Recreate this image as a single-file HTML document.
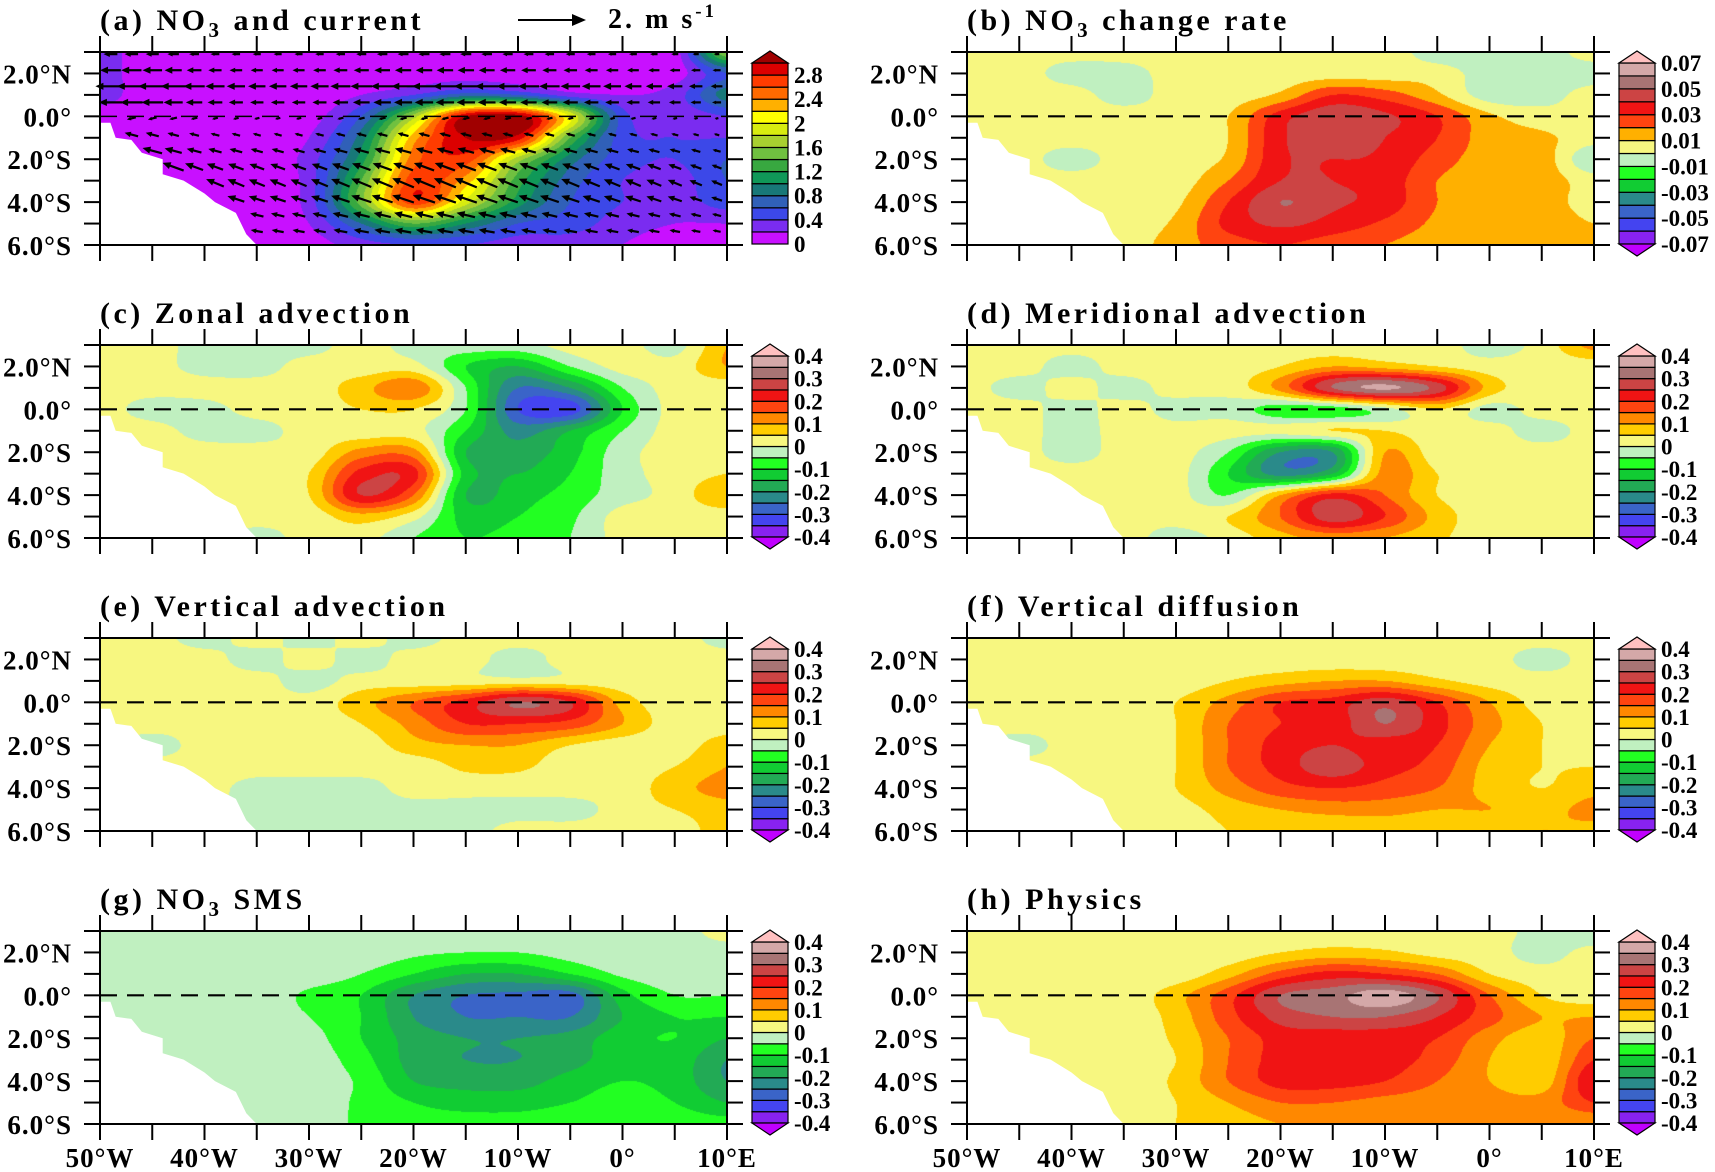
<!DOCTYPE html>
<html><head><meta charset="utf-8"><title>NO3 budget maps</title>
<style>
html,body{margin:0;padding:0;background:#fff;}
#wrap{position:relative;width:1715px;height:1172px;overflow:hidden;background:#fff;}
canvas{position:absolute;}
svg{position:absolute;left:0;top:0;}
text{font-family:"Liberation Serif",serif;fill:#000;}
</style></head>
<body>
<div id="wrap">
<svg id="ov" width="1715" height="1172"></svg>
</div>
<script>
const lons=[-50,-45,-40,-35,-30,-25,-20,-15,-10,-5,0,5,10];
const lats=[3,2,1,0,-1,-2,-3,-4,-5,-6];
const no3Grid=[
[0.3,0.05,0.05,0.05,0.05,0.05,0.05,0.05,0.05,0.05,0.05,0.1,1.6],
[0.3,0.05,0.05,0.05,0.05,0.05,0.1,0.1,0.1,0.1,0.1,0.1,0.6],
[0.3,0.05,0.05,0.05,0.05,0.2,0.4,0.7,0.6,0.3,0.2,0.3,0.9],
[0.1,0.05,0.05,0.05,0.1,0.6,1.7,3.0,3.1,2.0,0.5,0.3,0.4],
[0.1,0.05,0.05,0.05,0.2,0.9,2.3,3.0,2.9,1.4,0.5,0.4,0.4],
[0.05,0.05,0.05,0.05,0.3,1.1,2.5,2.7,1.7,0.9,0.5,0.4,0.6],
[0.05,0.05,0.05,0.05,0.3,1.4,2.7,2.3,1.3,0.7,0.4,0.3,0.6],
[0.05,0.05,0.05,0.05,0.3,1.5,2.7,1.9,1.1,0.6,0.4,0.3,0.5],
[0.05,0.05,0.05,0.05,0.2,0.8,1.4,1.0,0.6,0.5,0.3,0.2,0.2],
[0.05,0.05,0.05,0.05,0.1,0.3,0.4,0.4,0.3,0.3,0.2,0.1,0.1]];
const rateGrid=[
[0.005,0.005,0.005,0.005,0.005,0.005,0.005,0.005,0.005,-0.005,-0.005,-0.005,0.005],
[0.005,0.005,-0.005,-0.005,0.005,0.005,0.005,0.005,0.005,0.005,-0.005,-0.005,-0.005],
[0.005,0.005,0.005,-0.005,0.005,0.005,0.012,0.03,0.025,0.012,-0.005,-0.005,0.005],
[0.005,0.005,0.005,0.005,0.005,0.01,0.035,0.048,0.042,0.03,0.012,0.005,0.005],
[0.005,0.005,0.005,0.005,0.005,0.01,0.038,0.045,0.04,0.03,0.015,0.012,0.005],
[0.005,0.005,-0.005,0.005,0.005,0.012,0.038,0.04,0.038,0.025,0.015,0.015,-0.01],
[0.005,0.005,0.005,0.005,0.005,0.02,0.04,0.04,0.036,0.02,0.015,0.015,0.005],
[0.005,0.005,0.005,0.005,0.008,0.03,0.05,0.042,0.036,0.02,0.015,0.015,0.005],
[0.005,0.005,0.005,0.005,0.012,0.033,0.042,0.036,0.028,0.018,0.015,0.015,0.01],
[0.005,0.005,0.005,0.005,0.015,0.025,0.03,0.025,0.02,0.015,0.015,0.012,0.012]];
const zonalGrid=[
[0.02,0.02,-0.02,-0.02,-0.02,0.02,-0.02,-0.02,-0.02,0.02,0.02,-0.02,0.1],
[0.02,0.02,-0.02,-0.02,0.02,0.02,0.02,-0.1,-0.15,-0.05,0.02,0.02,0.1],
[0.02,0.02,0.02,0.02,0.02,0.08,0.14,-0.05,-0.25,-0.2,-0.05,0.02,0.02],
[0.02,-0.02,-0.02,0.02,0.02,0.05,0.05,-0.05,-0.3,-0.33,-0.1,0.02,0.02],
[0.02,0.02,-0.02,-0.02,0.02,0.02,0.02,-0.1,-0.22,-0.15,-0.05,0.02,0.02],
[0.02,0.02,0.02,0.02,0.02,0.12,0.12,-0.15,-0.18,-0.12,-0.02,0.02,0.02],
[0.02,0.02,0.02,0.02,0.05,0.22,0.22,-0.12,-0.15,-0.1,-0.02,0.02,0.05],
[0.02,0.02,0.02,0.02,0.05,0.25,0.15,-0.15,-0.12,-0.08,-0.02,0.02,0.1],
[0.02,0.02,0.02,0.02,0.02,0.08,0.02,-0.12,-0.1,-0.06,0.02,0.02,0.02],
[0.02,0.02,0.02,-0.02,0.02,0.02,-0.05,-0.1,-0.08,-0.05,0.02,0.02,0.02]];
const meridGrid=[
[0.02,0.02,0.02,0.02,0.02,0.02,0.02,0.02,0.02,0.02,-0.02,0.02,0.12],
[0.02,0.02,-0.02,0.02,0.02,0.02,0.05,0.1,0.08,0.05,0.02,0.02,0.02],
[0.02,-0.02,0.02,-0.02,0.02,0.02,0.12,0.3,0.36,0.28,0.08,0.02,0.02],
[0.02,0.02,-0.02,0.02,-0.02,-0.02,-0.08,-0.08,-0.02,0.05,-0.02,0.02,0.02],
[0.02,0.02,-0.02,0.02,0.02,0.02,0.02,0.05,0.05,0.02,0.02,-0.02,0.02],
[0.02,0.02,-0.02,0.02,0.02,-0.05,-0.2,-0.2,0.1,0.02,0.02,0.02,0.02],
[0.02,0.02,0.02,0.02,0.02,-0.1,-0.22,-0.15,0.12,0.05,0.02,0.02,0.02],
[0.02,0.02,0.02,0.02,0.02,-0.05,0.1,0.22,0.15,0.05,0.02,0.02,0.02],
[0.02,0.02,0.02,0.02,0.02,0.05,0.15,0.28,0.2,0.08,0.02,0.02,0.02],
[0.02,0.02,0.02,0.02,-0.02,0.02,0.08,0.12,0.1,0.06,0.02,0.02,0.02]];
const vertAdvGrid=[
[0.02,0.02,-0.02,0.02,-0.02,0.02,-0.02,0.02,0.02,0.02,0.02,0.02,-0.02],
[0.02,0.02,0.02,-0.02,0.02,-0.02,0.02,0.02,-0.02,0.02,0.02,0.02,0.02],
[0.02,0.02,0.02,0.02,-0.02,0.02,0.02,0.02,0.02,0.02,0.02,0.02,0.02],
[0.02,0.02,0.02,0.02,0.02,0.08,0.15,0.22,0.3,0.25,0.08,0.02,0.02],
[0.02,0.02,0.02,0.02,0.02,0.05,0.12,0.2,0.2,0.18,0.1,0.02,0.02],
[0.02,-0.02,0.02,0.02,0.02,0.02,0.08,0.1,0.1,0.05,0.02,0.02,0.08],
[0.02,0.02,0.02,0.02,0.02,0.02,0.02,0.06,0.06,0.02,0.02,0.05,0.1],
[0.02,0.02,0.02,-0.02,-0.02,-0.02,0.02,0.02,0.02,0.02,0.02,0.08,0.12],
[0.02,0.02,0.02,-0.02,-0.02,-0.02,-0.02,-0.02,-0.02,-0.02,0.02,0.05,0.08],
[0.02,0.02,0.02,-0.02,-0.02,-0.02,-0.02,-0.02,0.02,0.02,0.02,0.02,0.08]];
const vertDiffGrid=[
[0.02,0.02,0.02,0.02,0.02,0.02,0.02,0.02,0.02,0.02,0.02,0.02,0.02],
[0.02,0.02,0.02,0.02,0.02,0.02,0.02,0.02,0.02,0.02,0.02,-0.02,0.02],
[0.02,0.02,0.02,0.02,0.02,0.05,0.08,0.1,0.1,0.06,0.03,0.02,0.02],
[0.02,0.02,0.02,0.02,0.05,0.12,0.2,0.22,0.28,0.2,0.1,0.03,0.02],
[0.02,0.02,0.02,0.02,0.05,0.15,0.2,0.22,0.3,0.22,0.12,0.05,0.02],
[0.02,-0.02,0.02,0.02,0.05,0.15,0.22,0.25,0.22,0.2,0.1,0.05,0.02],
[0.02,0.02,0.02,0.02,0.05,0.15,0.22,0.28,0.22,0.18,0.08,0.05,0.05],
[0.02,0.02,0.02,0.02,0.05,0.12,0.18,0.2,0.18,0.15,0.08,0.05,0.08],
[0.02,0.02,0.02,0.02,0.03,0.07,0.1,0.12,0.12,0.1,0.1,0.08,0.12],
[0.02,0.02,0.02,0.02,0.02,0.05,0.05,0.05,0.06,0.05,0.06,0.1,0.08]];
const smsGrid=[
[-0.02,-0.02,-0.02,-0.02,-0.02,-0.02,-0.02,-0.02,-0.02,-0.02,-0.02,-0.02,0.02],
[-0.02,-0.02,-0.02,-0.02,-0.02,-0.02,-0.04,-0.05,-0.05,-0.03,-0.02,-0.02,-0.02],
[-0.02,-0.02,-0.02,-0.02,-0.02,-0.05,-0.1,-0.15,-0.15,-0.1,-0.04,-0.02,-0.02],
[-0.02,-0.02,-0.02,-0.02,-0.06,-0.1,-0.2,-0.25,-0.26,-0.27,-0.12,-0.05,-0.05],
[-0.02,-0.02,-0.02,-0.02,-0.05,-0.1,-0.2,-0.25,-0.25,-0.25,-0.15,-0.1,-0.1],
[-0.02,-0.02,-0.02,-0.02,-0.03,-0.1,-0.17,-0.2,-0.2,-0.18,-0.12,-0.1,-0.15],
[-0.02,-0.02,-0.02,-0.02,-0.02,-0.08,-0.17,-0.2,-0.2,-0.17,-0.12,-0.12,-0.2],
[-0.02,-0.02,-0.02,-0.02,-0.02,-0.06,-0.15,-0.17,-0.17,-0.13,-0.1,-0.12,-0.2],
[-0.02,-0.02,-0.02,-0.02,-0.02,-0.06,-0.1,-0.12,-0.12,-0.1,-0.08,-0.1,-0.15],
[-0.02,-0.02,-0.02,-0.02,-0.02,-0.06,-0.08,-0.08,-0.08,-0.07,-0.07,-0.07,-0.08]];
const physicsGrid=[
[0.02,0.02,0.02,0.02,0.02,0.02,0.02,0.02,0.02,0.02,0.02,-0.02,-0.05],
[0.02,0.02,0.02,0.02,0.02,0.02,0.05,0.07,0.06,0.03,0.02,-0.02,0.02],
[0.02,0.02,0.02,0.02,0.02,0.08,0.17,0.22,0.2,0.15,0.05,0.02,0.02],
[0.02,0.02,0.02,0.02,0.08,0.18,0.3,0.33,0.38,0.3,0.15,0.05,0.02],
[0.02,0.02,0.02,0.02,0.07,0.18,0.27,0.3,0.3,0.25,0.17,0.1,0.1],
[0.02,0.02,0.02,0.02,0.06,0.15,0.22,0.22,0.22,0.2,0.12,0.07,0.15],
[0.02,0.02,0.02,0.02,0.05,0.15,0.22,0.22,0.22,0.18,0.1,0.06,0.2],
[0.02,0.02,0.02,0.02,0.06,0.15,0.22,0.22,0.2,0.15,0.1,0.07,0.25],
[0.02,0.02,0.02,0.02,0.05,0.1,0.15,0.15,0.13,0.12,0.12,0.12,0.2],
[0.02,0.02,0.02,0.02,0.05,0.07,0.1,0.1,0.1,0.1,0.1,0.1,0.1]];
const arrowLats=[2.9,2.15,1.4,0.65,-0.1,-0.85,-1.6,-2.35,-3.1,-3.85,-4.6,-5.35];
const arrowU=[-0.3,-0.45,-0.65,-0.5,-0.2,-0.3,-0.45,-0.55,-0.6,-0.6,-0.5,-0.45];
const arrowV=[0,0,0,0,-0.05,0.08,0.12,0.2,0.25,0.2,0.12,0.08];
const arrowColScale=[1.4,1.3,0.9,0.8,0.8,1.0,1.1,1.1,1.0,0.9,0.8,0.7,0.5];
const coastLon=[-50,-49,-48.5,-47,-46,-44,-44,-42,-40,-39,-37,-36,-35];
const coastLat=[-0.3,-0.3,-1,-1.1,-1.7,-2,-2.7,-3,-3.6,-4,-4.5,-5.5,-6];
const levA=[0.2,0.4,0.6,0.8,1.0,1.2,1.4,1.6,1.8,2.0,2.2,2.4,2.6,2.8,3.0];
const colA=['#c810ff','#7a2cf0','#3c48e8','#3060b8','#187878','#109858','#38a840','#70c040','#a8d030','#d8ec10','#ffff00','#ffb000','#ff6a00','#ff3c00','#dc0000','#a00000'];
const labA=['0','0.4','0.8','1.2','1.6','2','2.4','2.8'];
const levB=[-0.07,-0.06,-0.05,-0.04,-0.03,-0.02,-0.01,0,0.01,0.02,0.03,0.04,0.05,0.06,0.07];
const colB=['#c000ff','#8822f0','#4444f0','#3a64c8','#2a8a8a','#11cc33','#22ff22','#c0f0c0','#f7f780','#ffb000','#ff4410','#f01414','#cc4444','#a87474','#d4a8a8','#ffc0c0'];
const labB=['-0.07','-0.05','-0.03','-0.01','0.01','0.03','0.05','0.07'];
const levC=[-0.4,-0.35,-0.3,-0.25,-0.2,-0.15,-0.1,-0.05,0,0.05,0.1,0.15,0.2,0.25,0.3,0.35,0.4];
const colC=['#c000ff','#8822f0','#4444f0','#3a64c8','#2a8a8a','#22aa55','#11cc33','#22ff22','#c0f0c0','#f7f780','#ffcc00','#ff8800','#ff4410','#f01414','#cc4444','#a87474','#d4a8a8','#ffc0c0'];
const labC=['-0.4','-0.3','-0.2','-0.1','0','0.1','0.2','0.3','0.4'];
const xTickLabels=['50°W','40°W','30°W','20°W','10°W','0°','10°E'];
const yTickLabels=['2.0°N','0.0°','2.0°S','4.0°S','6.0°S'];

const PW=627, PH=193, colX=[100,967], rowY=[52,345,638,931];
const panels=[
 {id:'a',title:['(a) NO','3',' and current'],grid:no3Grid,lev:levA,col:colA,lab:labA,cb:'a',c:0,r:0},
 {id:'b',title:['(b) NO','3',' change rate'],grid:rateGrid,lev:levB,col:colB,lab:labB,cb:'b',c:1,r:0},
 {id:'c',title:['(c) Zonal advection'],grid:zonalGrid,lev:levC,col:colC,lab:labC,cb:'c',c:0,r:1},
 {id:'d',title:['(d) Meridional advection'],grid:meridGrid,lev:levC,col:colC,lab:labC,cb:'c',c:1,r:1},
 {id:'e',title:['(e) Vertical advection'],grid:vertAdvGrid,lev:levC,col:colC,lab:labC,cb:'c',c:0,r:2},
 {id:'f',title:['(f) Vertical diffusion'],grid:vertDiffGrid,lev:levC,col:colC,lab:labC,cb:'c',c:1,r:2},
 {id:'g',title:['(g) NO','3',' SMS'],grid:smsGrid,lev:levC,col:colC,lab:labC,cb:'c',c:0,r:3},
 {id:'h',title:['(h) Physics'],grid:physicsGrid,lev:levC,col:colC,lab:labC,cb:'c',c:1,r:3}];

const NS='http://www.w3.org/2000/svg';
const svgRoot=document.getElementById('ov');
const wrapEl=document.getElementById('wrap');
function mk(tag,attrs,parent){const e=document.createElementNS(NS,tag);for(const k in attrs)e.setAttribute(k,String(attrs[k]));(parent||svgRoot).appendChild(e);return e;}
function cr(p0,p1,p2,p3,t){return 0.5*((2*p1)+(-p0+p2)*t+(2*p0-5*p1+4*p2-p3)*t*t+(-p0+3*p1-3*p2+p3)*t*t*t);}
function clampI(a,n){return Math.max(0,Math.min(n-1,a));}
function sample(g,lon,lat){
  const nx=lons.length, ny=lats.length;
  let fx=(lon-lons[0])/5, fy=(lats[0]-lat);
  fx=Math.max(0,Math.min(nx-1.0001,fx)); fy=Math.max(0,Math.min(ny-1.0001,fy));
  const i=Math.floor(fx), j=Math.floor(fy), tx=fx-i, ty=fy-j;
  const rows=[];
  for(let dj=-1;dj<=2;dj++){const rr=g[clampI(j+dj,ny)];
    rows.push(cr(rr[clampI(i-1,nx)],rr[clampI(i,nx)],rr[clampI(i+1,nx)],rr[clampI(i+2,nx)],tx));}
  return cr(rows[0],rows[1],rows[2],rows[3],ty);
}
function colScaleAt(lon){let f=(lon+50)/5;f=Math.max(0,Math.min(11.999,f));const i=Math.floor(f),t=f-i;return arrowColScale[i]*(1-t)+arrowColScale[i+1]*t;}
function hexRGB(h){return [parseInt(h.substr(1,2),16),parseInt(h.substr(3,2),16),parseInt(h.substr(5,2),16)];}
function coastAt(lon){
  if(lon>coastLon[coastLon.length-1]) return -99;
  for(let k=0;k<coastLon.length-1;k++){if(lon>=coastLon[k]&&lon<=coastLon[k+1]){const a=coastLon[k+1]-coastLon[k];if(a===0)return Math.min(coastLat[k],coastLat[k+1]);return coastLat[k]+(coastLat[k+1]-coastLat[k])*(lon-coastLon[k])/a;}}
  return coastLat[0];
}
function xOf(x0,lon){return x0+(lon+50)/60*PW;}
function yOf(y0,lat){return y0+(3-lat)/9*PH;}

function drawField(p,x0,y0){
  const cv=document.createElement('canvas');
  cv.width=PW; cv.height=PH; cv.style.left=x0+'px'; cv.style.top=y0+'px';
  
  
  wrapEl.insertBefore(cv,svgRoot);
  const ctx=cv.getContext('2d'); const img=ctx.createImageData(PW,PH);
  const rgb=p.col.map(hexRGB);
  for(let py=0;py<PH;py++){const lat=3-(py+0.5)/PH*9;
    for(let px=0;px<PW;px++){const lon=-50+(px+0.5)/PW*60;
      const v=sample(p.grid,lon,lat); let k=0; while(k<p.lev.length&&v>=p.lev[k])k++;
      const c=rgb[k]; const o=(py*PW+px)*4; img.data[o]=c[0];img.data[o+1]=c[1];img.data[o+2]=c[2];img.data[o+3]=255;}}
  ctx.putImageData(img,0,0);
}
function drawVectors(g,x0,y0){
  for(let ri=0;ri<arrowLats.length;ri++){const la=arrowLats[ri];
    for(let lo=-49;lo<=9.5;lo+=2){
      if(la<coastAt(lo)+0.2) continue;
      const s=colScaleAt(lo);
      const dx=arrowU[ri]*s*33.5, dy=-arrowV[ri]*s*33.5;
      const cx=xOf(x0,lo), cy=yOf(y0,la);
      const ax=cx-dx/2, ay=cy-dy/2, bx=cx+dx/2, by=cy+dy/2;
      const L=Math.hypot(dx,dy); if(L<2) continue;
      const ux=dx/L, uy=dy/L, hh=Math.min(8,L*0.45);
      const ar=mk('g',{},g);
      
      
      mk('line',{x1:ax,y1:ay,x2:bx-ux*hh*0.6,y2:by-uy*hh*0.6,stroke:'#000','stroke-width':2.2},ar);
      const pts=[bx,by,bx-ux*hh-uy*hh*0.45,by-uy*hh+ux*hh*0.45,bx-ux*hh+uy*hh*0.45,by-uy*hh-ux*hh*0.45].map(v=>v.toFixed(1));
      mk('polygon',{points:pts[0]+','+pts[1]+' '+pts[2]+','+pts[3]+' '+pts[4]+','+pts[5],fill:'#000'},ar);
    }
  }
  const ref=mk('g',{},g);
  
  
  mk('line',{x1:518,y1:20,x2:576,y2:20,stroke:'#000','stroke-width':2},ref);
  mk('polygon',{points:'586,20 572,14 572,26',fill:'#000'},ref);
  const rt=mk('text',{x:608,y:28,'font-size':28,'font-weight':'bold','letter-spacing':3},ref);
  rt.appendChild(document.createTextNode('2. m s'));
  const sup=mk('tspan',{dy:-11,'font-size':19},rt); sup.textContent='-1';
}

panels.forEach(p=>{
  const x0=colX[p.c], y0=rowY[p.r], x1=x0+PW, y1=y0+PH;
  try{drawField(p,x0,y0);}catch(e){}
  const g=mk('g',{});
  
  
  let d='M'+xOf(x0,coastLon[0])+','+yOf(y0,coastLat[0]);
  for(let k=1;k<coastLon.length;k++) d+=' L'+xOf(x0,coastLon[k])+','+yOf(y0,coastLat[k]);
  d+=' L'+xOf(x0,-35)+','+(y1+1)+' L'+x0+','+(y1+1)+' Z';
  const land=mk('path',{d:d,fill:'#fff'},g);
  
  
  const eq=mk('line',{x1:x0,x2:x1,y1:yOf(y0,0),y2:yOf(y0,0),stroke:'#000','stroke-width':p.id==='a'?1.5:2.2,'stroke-dasharray':'17 10'},g);
  
  
  if(p.id==='a'){try{drawVectors(g,x0,y0);}catch(e){}}
  const fr=mk('rect',{x:x0,y:y0,width:PW,height:PH,fill:'none',stroke:'#000','stroke-width':2},g);
  
  
  for(let lo=-50;lo<=10;lo+=5){const x=xOf(x0,lo);
    mk('line',{x1:x,x2:x,y1:y0,y2:y0-16,stroke:'#000','stroke-width':2},g);
    mk('line',{x1:x,x2:x,y1:y1,y2:y1+16,stroke:'#000','stroke-width':2},g);}
  for(let la=3;la>=-6;la--){const y=yOf(y0,la);
    mk('line',{x1:x0-16,x2:x0,y1:y,y2:y,stroke:'#000','stroke-width':2},g);
    mk('line',{x1:x1,x2:x1+16,y1:y,y2:y,stroke:'#000','stroke-width':2},g);}
  yTickLabels.forEach((t,k)=>{const y=yOf(y0,2-2*k);
    const tx=mk('text',{x:x0-28,y:y+10,'font-size':27,'font-weight':'bold','text-anchor':'end','letter-spacing':1},g);
    
    
    tx.textContent=t;});
  if(p.r===3){xTickLabels.forEach((t,k)=>{const x=xOf(x0,-50+10*k);
    const tx=mk('text',{x:x,y:1167,'font-size':27,'font-weight':'bold','text-anchor':'middle','letter-spacing':1},g);
    
    
    tx.textContent=t;});}
  const tt=mk('text',{x:x0,y:y0-22,'font-size':30,'font-weight':'bold','letter-spacing':3.5},g);
  
  
  const s0=mk('tspan',{},tt); s0.textContent=p.title[0];
  if(p.title.length>1){const s1=mk('tspan',{dy:7,'font-size':21},tt); s1.textContent=p.title[1];
    const s2=mk('tspan',{dy:-7},tt); s2.textContent=p.title[2];}
  const cb=mk('g',{},g);
  
  
  const cx0=x0+652, cw=36, ct=y0+11, cbt=y0+192;
  let boxes, topTri, botTri;
  if(p.cb==='a'){boxes=p.col.slice(0,15); topTri=p.col[15]; botTri=null;}
  else if(p.cb==='b'){boxes=p.col.slice(1,15); topTri=p.col[15]; botTri=p.col[0];}
  else {boxes=p.col.slice(1,17); topTri=p.col[17]; botTri=p.col[0];}
  const bh=(cbt-ct)/boxes.length;
  boxes.forEach((c,k)=>{const b=mk('rect',{x:cx0,y:cbt-(k+1)*bh,width:cw,height:bh,fill:c,stroke:'#000','stroke-width':1.2},cb);
    
    });
  mk('polygon',{points:cx0+','+ct+' '+(cx0+cw/2)+','+(y0-1)+' '+(cx0+cw)+','+ct,fill:topTri,stroke:'#000','stroke-width':1.2},cb);
  if(botTri) mk('polygon',{points:cx0+','+cbt+' '+(cx0+cw/2)+','+(cbt+12)+' '+(cx0+cw)+','+cbt,fill:botTri,stroke:'#000','stroke-width':1.2},cb);
  p.lab.forEach((t,k)=>{const y=cbt-k*2*bh;
    const lt=mk('text',{x:cx0+42,y:y+8,'font-size':23,'font-weight':'bold'},cb);
    
    
    lt.textContent=t;});
});
</script>
</body></html>
